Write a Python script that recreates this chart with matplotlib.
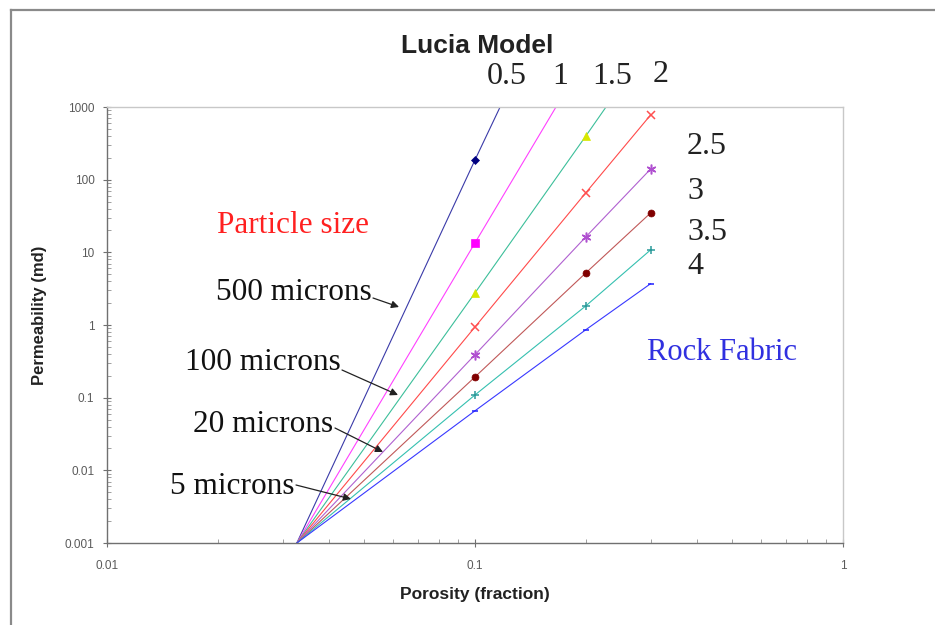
import matplotlib
matplotlib.use('Agg')
import matplotlib.pyplot as plt
from matplotlib.lines import Line2D
from matplotlib.ticker import LogLocator, NullFormatter
import numpy as np

# --- data (porosity fraction, permeability md) ---
rock_fabric = ['0.5', '1', '1.5', '2', '2.5', '3', '3.5', '4']

phi_05 = [0.0328, 0.1, 0.117]
k_05 = [0.001, 187, 1000]
phi_10 = [0.0328, 0.1, 0.166]
k_10 = [0.001, 13.5, 1000]
phi_15 = [0.0328, 0.1, 0.2, 0.227]
k_15 = [0.001, 2.77, 398, 1000]
phi_20 = [0.0328, 0.1, 0.2, 0.3]
k_20 = [0.001, 0.94, 66, 776]
phi_25 = [0.0328, 0.1, 0.2, 0.3]
k_25 = [0.001, 0.39, 16.3, 140]
phi_30 = [0.0328, 0.1, 0.2, 0.3]
k_30 = [0.001, 0.193, 5.2, 34.8]
phi_35 = [0.0328, 0.1, 0.2, 0.3]
k_35 = [0.001, 0.109, 1.83, 10.8]
phi_40 = [0.0328, 0.1, 0.2, 0.3]
k_40 = [0.001, 0.066, 0.86, 3.7]

marker_phi = [0.1, 0.2, 0.3]

y_ticks = [0.001, 0.01, 0.1, 1, 10, 100, 1000]
y_ticklabels = ['0.001', '0.01', '0.1', '1', '10', '100', '1000']
x_ticks = [0.01, 0.1, 1]
x_ticklabels = ['0.01', '0.1', '1']

particle_labels = ['500 microns', '100 microns', '20 microns', '5 microns']

W, H = 935, 625
SERIF = 'Liberation Serif'
SANS = 'Liberation Sans'


def fxy(px, py):
	# pixel position (from top-left) -> figure fraction
	return (px / W, 1 - py / H)


fig = plt.figure(figsize=(W / 100, H / 100), dpi=100)
fig.patch.set_facecolor('white')

# outer frame (left and top edges visible)
fig.add_artist(Line2D([11 / W, 11 / W], [0, 1 - 10 / H], transform=fig.transFigure, color='#8a8a8a', lw=1.6))
fig.add_artist(Line2D([11 / W, 1], [1 - 10 / H, 1 - 10 / H], transform=fig.transFigure, color='#8a8a8a', lw=1.6))

ax = fig.add_axes([107 / W, 1 - 543 / H, (843 - 107) / W, (543 - 107) / H])
ax.set_xscale('log')
ax.set_yscale('log')
ax.set_xlim(0.01, 1)
ax.set_ylim(0.001, 1000)

star = (6, 2, 0)
series = [
	(phi_05, k_05, '#3a3aa8', '#000080', 'D', 4.5),
	(phi_10, k_10, '#ff40ff', '#ff00ff', 's', 6),
	(phi_15, k_15, '#3cbf9a', '#d8e800', '^', 5.5),
	(phi_20, k_20, '#ff4a4a', '#ff5050', 'x', 6),
	(phi_25, k_25, '#b060d0', '#b050d0', star, 7),
	(phi_30, k_30, '#c05858', '#800000', 'o', 5),
	(phi_35, k_35, '#35c0b0', '#2a9a9a', '+', 5.5),
	(phi_40, k_40, '#3838ff', '#2020ff', '_', 5),
]

for phi, k, lc, mc, mk, ms in series:
	ax.plot(phi, k, color=lc, lw=0.8, clip_on=True)
	mp = [p for p in phi if p in marker_phi]
	mkv = [k[i] for i, p in enumerate(phi) if p in marker_phi]
	thin = mk in ('x', '+', '_') or mk == star
	ax.plot(mp, mkv, ls='none', marker=mk, color=mc, markersize=ms,
			markeredgewidth=1.1 if thin else 0.5, markeredgecolor=mc)

# axes styling
for side in ['left', 'bottom']:
	ax.spines[side].set_color('#707070')
	ax.spines[side].set_linewidth(1.0)
for side in ['top', 'right']:
	ax.spines[side].set_color('#c8c8c8')
	ax.spines[side].set_linewidth(1.0)

ax.set_yticks(y_ticks)
ax.set_yticklabels(y_ticklabels)
ax.set_xticks(x_ticks)
ax.set_xticklabels(x_ticklabels)
ax.yaxis.set_minor_locator(LogLocator(base=10, subs=np.arange(2, 10), numticks=20))
ax.xaxis.set_minor_locator(LogLocator(base=10, subs=np.arange(2, 10), numticks=20))
ax.yaxis.set_minor_formatter(NullFormatter())
ax.xaxis.set_minor_formatter(NullFormatter())
ax.tick_params(which='major', direction='inout', length=6, width=0.8, color='#707070',
			   labelsize=8.5, labelcolor='#5a5a5a')
ax.tick_params(which='minor', direction='in', length=3, width=0.6, color='#909090')
ax.tick_params(axis='y', which='major', pad=6)
ax.tick_params(axis='x', which='major', pad=9)
for lab in ax.get_xticklabels() + ax.get_yticklabels():
	lab.set_family(SANS)

ax.set_ylabel('Permeability (md)', family=SANS, fontweight='bold', fontsize=12, color='#222222')
ax.yaxis.set_label_coords(-0.081, 0.523)
ax.set_xlabel('Porosity (fraction)', family=SANS, fontweight='bold', fontsize=12.5, color='#222222')
ax.xaxis.set_label_coords(0.5, -0.1)

# title and annotations
fig.text(*fxy(477, 46), 'Lucia Model', family=SANS, fontweight='bold', fontsize=19,
		 ha='center', va='center', color='#222222')

top_pos = [(507, 77), (560, 77), (612, 77), (661, 75)]
for lab, (px, py) in zip(rock_fabric[:4], top_pos):
	fig.text(*fxy(px, py), lab, family=SERIF, fontsize=23, ha='center', va='center', color='#222222')
side_pos = [147, 192, 233, 266]
for lab, py in zip(rock_fabric[4:], side_pos):
	fig.text(*fxy(687, py), lab, family=SERIF, fontsize=23, ha='left', va='center', color='#222222')

fig.text(*fxy(293, 226), 'Particle size', family=SERIF, fontsize=22.5, ha='center', va='center', color='#ff2020')
fig.text(*fxy(722, 352), 'Rock Fabric', family=SERIF, fontsize=22, ha='center', va='center', color='#3030e0')

text_pos = [(372, 292), (341, 362), (333, 425), (295, 487)]
arrow_tail = [(373, 298), (342, 370), (335, 428), (296, 485)]
arrow_tip = [(399, 307), (398, 395), (383, 452), (351, 499)]
for lab, (tx, ty), tail, tip in zip(particle_labels, text_pos, arrow_tail, arrow_tip):
	fig.text(*fxy(tx, ty), lab, family=SERIF, fontsize=22.5, ha='right', va='center', color='#111111')
	ax.annotate('', xy=fxy(*tip), xycoords='figure fraction', xytext=fxy(*tail),
				textcoords='figure fraction',
				arrowprops=dict(arrowstyle='-|>', color='#222222', lw=0.9, mutation_scale=11,
								shrinkA=0, shrinkB=0))

fig.savefig('out.png', dpi=100)
